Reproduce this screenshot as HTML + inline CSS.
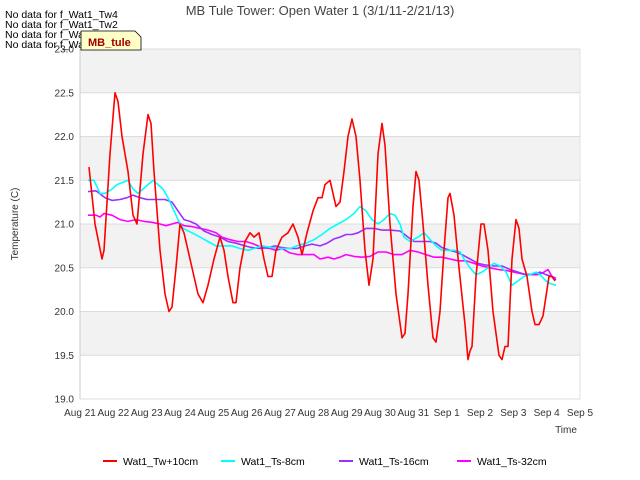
<!DOCTYPE html>
<html><head><meta charset="utf-8"><style>
body{margin:0;background:#fff;font-family:"Liberation Sans",sans-serif}
svg{display:block}
</style></head><body>
<svg id="chart" width="640" height="480">
<text x="320" y="15" text-anchor="middle" font-size="13" fill="#444">MB Tule Tower: Open Water 1 (3/1/11-2/21/13)</text>
<g id="bands"></g>
<g id="ticks"></g>
<g id="lines"></g>
<text x="18" y="224" text-anchor="middle" font-size="10" fill="#333" transform="rotate(-90 18 224)">Temperature (C)</text>
<text x="566" y="433" text-anchor="middle" font-size="10" fill="#333">Time</text>
<g font-size="10.5" fill="#000">
<text x="5" y="18">No data for f_Wat1_Tw4</text>
<text x="5" y="28">No data for f_Wat1_Tw2</text>
<text x="5" y="38">No data for f_Wat1_Ts2</text>
<text x="5" y="48">No data for f_Wat1_Ts4</text>
</g>
<g>
<path d="M81,31 H135 L141,37 V50 H81 Z" fill="#ffffc8" stroke="#000" stroke-width="0.8"/>
<text x="88" y="46" font-size="11" font-weight="bold" fill="#a00000">MB_tule</text>
</g>
<g id="legend" font-size="10.5" fill="#000"></g>
</svg>
<script>
const yTicks=[19.0,19.5,20.0,20.5,21.0,21.5,22.0,22.5,23.0];
const xTickLabels=["Aug 21","Aug 22","Aug 23","Aug 24","Aug 25","Aug 26","Aug 27","Aug 28","Aug 29","Aug 30","Aug 31","Sep 1","Sep 2","Sep 3","Sep 4","Sep 5"];
const redDays=[.27,.45,.66,.72,.9,1.05,1.14,1.26,1.44,1.59,1.71,1.89,2.04,2.13,2.22,2.4,2.55,2.67,2.76,2.88,3.0,3.12,3.3,3.54,3.69,3.84,4.02,4.2,4.32,4.44,4.59,4.68,4.8,4.95,5.1,5.22,5.37,5.52,5.64,5.76,5.88,6.06,6.24,6.39,6.54,6.66,6.81,6.99,7.14,7.26,7.35,7.5,7.59,7.68,7.8,7.92,8.04,8.16,8.28,8.4,8.55,8.67,8.79,8.94,9.06,9.15,9.3,9.48,9.66,9.75,9.84,9.99,10.08,10.17,10.29,10.44,10.59,10.68,10.8,10.92,11.04,11.1,11.22,11.37,11.55,11.64,11.7,11.76,11.88,12.03,12.12,12.24,12.39,12.57,12.66,12.75,12.84,12.96,13.08,13.17,13.26,13.41,13.56,13.65,13.77,13.89,14.01,14.07,14.16,14.25];
const redVals=[21.65,21.0,20.6,20.7,21.8,22.5,22.4,22.0,21.6,21.1,21.0,21.8,22.25,22.15,21.6,20.7,20.2,20.0,20.05,20.5,21.0,20.9,20.6,20.2,20.1,20.3,20.6,20.85,20.7,20.4,20.1,20.1,20.5,20.8,20.9,20.85,20.9,20.6,20.4,20.4,20.7,20.85,20.9,21.0,20.85,20.65,20.9,21.15,21.3,21.3,21.45,21.5,21.35,21.2,21.25,21.6,22.0,22.2,22.0,21.5,20.7,20.3,20.6,21.8,22.15,21.9,21.0,20.2,19.7,19.75,20.2,21.2,21.6,21.5,21.0,20.3,19.7,19.65,20.0,20.7,21.3,21.35,21.1,20.5,19.85,19.45,19.55,19.6,20.4,21.0,21.0,20.7,20.0,19.5,19.45,19.6,19.6,20.6,21.05,20.95,20.6,20.4,20.0,19.85,19.85,19.95,20.25,20.4,20.4,20.35];
const cyanDays=[.24,.42,.6,.75,.96,1.11,1.44,1.59,1.74,1.89,2.04,2.19,2.34,2.49,2.64,2.76,2.94,3.09,3.36,3.6,3.84,4.08,4.32,4.56,4.8,5.04,5.22,5.46,5.76,6.0,6.3,6.51,6.78,7.02,7.26,7.5,7.74,7.98,8.22,8.4,8.58,8.76,8.94,9.12,9.3,9.45,9.6,9.72,9.9,10.14,10.32,10.44,10.68,10.86,11.04,11.25,11.4,11.52,11.7,11.88,12.06,12.24,12.42,12.6,12.78,12.96,13.14,13.32,13.5,13.68,13.8,13.98,14.1,14.28];
const cyanVals=[21.5,21.5,21.35,21.35,21.4,21.45,21.5,21.4,21.35,21.4,21.45,21.5,21.45,21.4,21.3,21.2,21.05,20.95,20.9,20.85,20.8,20.75,20.75,20.75,20.72,20.7,20.72,20.75,20.73,20.72,20.72,20.75,20.78,20.82,20.88,20.95,21.0,21.05,21.12,21.2,21.15,21.05,21.0,21.05,21.12,21.1,21.0,20.85,20.8,20.85,20.9,20.85,20.75,20.7,20.7,20.7,20.68,20.6,20.5,20.42,20.45,20.5,20.55,20.52,20.45,20.3,20.35,20.4,20.42,20.45,20.42,20.35,20.32,20.3];
const purpleDays=[.24,.48,.75,.96,1.2,1.41,1.59,1.8,2.01,2.25,2.55,2.76,2.94,3.12,3.3,3.48,3.72,3.96,4.2,4.44,4.68,4.95,5.16,5.4,5.64,5.85,6.06,6.3,6.51,6.75,6.96,7.2,7.41,7.62,7.8,7.98,8.16,8.34,8.58,8.82,9.06,9.3,9.6,9.84,10.02,10.26,10.5,10.68,10.86,11.1,11.28,11.46,11.7,11.94,12.18,12.42,12.66,12.9,13.14,13.38,13.62,13.8,13.98,14.16,14.28];
const purpleVals=[21.37,21.38,21.3,21.27,21.28,21.3,21.33,21.3,21.28,21.28,21.28,21.25,21.15,21.05,21.03,21.0,20.92,20.88,20.85,20.8,20.78,20.75,20.73,20.72,20.73,20.75,20.73,20.72,20.72,20.75,20.77,20.75,20.78,20.83,20.85,20.88,20.88,20.9,20.95,20.95,20.93,20.93,20.92,20.85,20.8,20.8,20.8,20.78,20.73,20.7,20.68,20.65,20.6,20.55,20.53,20.52,20.52,20.48,20.45,20.42,20.43,20.45,20.42,20.4,20.38];
const magentaDays=[.24,.48,.6,.72,.96,1.2,1.44,1.68,1.92,2.16,2.4,2.58,2.76,2.94,3.12,3.36,3.6,3.84,4.08,4.26,4.5,4.74,4.98,5.22,5.46,5.7,5.88,6.06,6.3,6.54,6.78,7.02,7.2,7.44,7.62,7.8,7.98,8.22,8.46,8.7,8.94,9.18,9.42,9.66,9.9,10.14,10.38,10.62,10.86,11.1,11.34,11.58,11.82,12.06,12.3,12.54,12.78,13.02,13.26,13.5,13.74,13.92,14.04,14.16,14.28];
const magentaVals=[21.1,21.1,21.08,21.12,21.1,21.05,21.03,21.05,21.03,21.02,21.0,20.98,21.0,21.02,20.98,20.97,20.95,20.93,20.9,20.85,20.82,20.8,20.8,20.77,20.73,20.72,20.7,20.72,20.67,20.65,20.65,20.65,20.6,20.62,20.6,20.62,20.65,20.63,20.62,20.63,20.68,20.68,20.65,20.65,20.7,20.68,20.65,20.62,20.62,20.6,20.58,20.58,20.55,20.52,20.5,20.48,20.47,20.45,20.43,20.42,20.42,20.45,20.48,20.4,20.36];
const seriesNames=["Wat1_Tw+10cm","Wat1_Ts-8cm","Wat1_Ts-16cm","Wat1_Ts-32cm"];

const X0=80,X1=580,Y0=49,Y1=399;
const xScale=d=>X0+d*(X1-X0)/15;
const yScale=v=>Y0+(23-v)*(Y1-Y0)/4;
const NS="http://www.w3.org/2000/svg";
function mk(parent,tag,attrs){const e=document.createElementNS(NS,tag);for(const k in attrs)e.setAttribute(k,attrs[k]);parent.appendChild(e);return e;}
const bands=document.getElementById('bands');
for(let i=0;i<yTicks.length-1;i++){
  const lo=yTicks[i],hi=yTicks[i+1];
  const r=mk(bands,'rect',{x:X0,y:yScale(hi),width:X1-X0,height:yScale(lo)-yScale(hi),fill:(i%2===1)?'#f2f2f2':'#ffffff'});
  
  
}
const ticks=document.getElementById('ticks');
yTicks.forEach(v=>{
  const l=mk(ticks,'line',{x1:X0,x2:X1,y1:yScale(v),y2:yScale(v),stroke:'#dcdcdc','stroke-width':1});
  
  
  const t=mk(ticks,'text',{x:X0-6,y:yScale(v)+3.5,'text-anchor':'end','font-size':10,fill:'#333'});
  t.textContent=v.toFixed(1);
  
  
});
mk(ticks,'line',{x1:X0,x2:X0,y1:Y0,y2:Y1,stroke:'#ccc'});
mk(ticks,'line',{x1:X1,x2:X1,y1:Y0,y2:Y1,stroke:'#e0e0e0'});
xTickLabels.forEach((s,i)=>{
  const t=mk(ticks,'text',{x:xScale(i),y:416,'text-anchor':'middle','font-size':10,fill:'#333'});
  t.textContent=s;
  
  
});
const lines=document.getElementById('lines');
function draw(days,vals,color,name){
  const pts=days.map((d,i)=>xScale(d).toFixed(1)+','+yScale(vals[i]).toFixed(1)).join(' ');
  const p=mk(lines,'polyline',{points:pts,fill:'none',stroke:color,'stroke-width':1.6,'stroke-linejoin':'round'});
  
  
}
draw(magentaDays,magentaVals,'#ff00ff','series-ts-32cm');
draw(purpleDays,purpleVals,'#9b30ff','series-ts-16cm');
draw(cyanDays,cyanVals,'#00ffff','series-ts-8cm');
draw(redDays,redVals,'#ff0000','series-tw-10cm');
const colors=['#ff0000','#00ffff','#9b30ff','#ff00ff'];
const lg=document.getElementById('legend');
seriesNames.forEach((n,i)=>{
  const x=103+i*118;
  const g=mk(lg,'g',{});
  
  
  mk(g,'line',{x1:x,x2:x+14,y1:461,y2:461,stroke:colors[i],'stroke-width':2});
  const t=mk(g,'text',{x:x+20,y:465});
  t.textContent=n;
});
</script>
</body></html>
